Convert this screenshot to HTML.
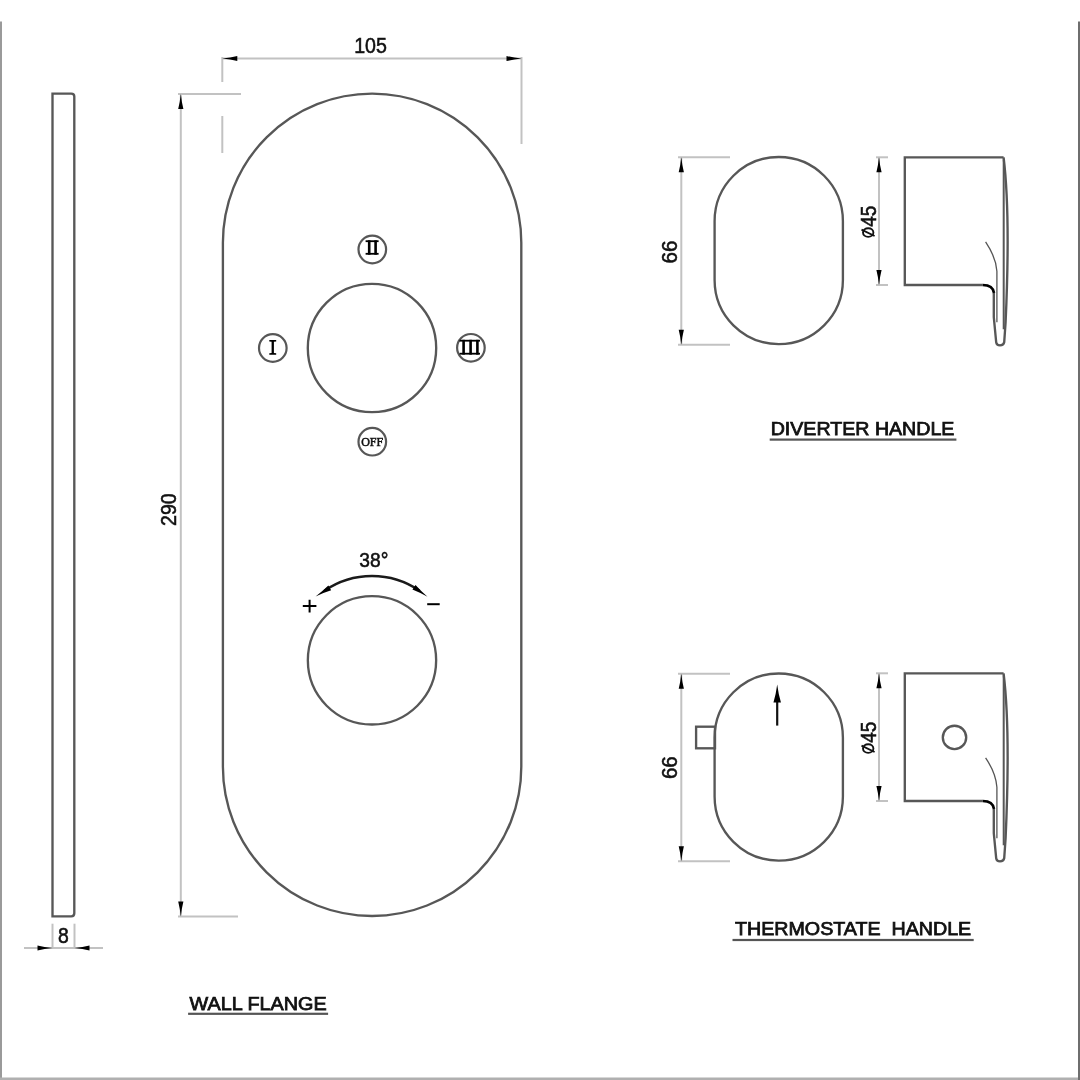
<!DOCTYPE html>
<html><head><meta charset="utf-8"><style>
html,body{margin:0;padding:0;background:#fff;}
text{-webkit-font-smoothing:antialiased;}
svg{display:block;will-change:transform;}
.wrap{width:1080px;height:1080px;}
</style></head><body><div class="wrap">
<svg width="1080" height="1080" viewBox="0 0 1080 1080">
<rect width="1080" height="1080" fill="#fff"/>
<rect x="0" y="21.5" width="2" height="1058.5" fill="#9a9a9a"/>
<rect x="0" y="1077.5" width="1080" height="2.5" fill="#b0b0b0"/>
<rect x="1078" y="21.5" width="2" height="1058.5" fill="#6e6e6e"/>
<path d="M52.5,916.3 L52.5,93.6 L71.3,93.6 Q74.3,93.6 74.3,96.6 L74.3,913.3 Q74.3,916.3 71.3,916.3 Z" fill="none" stroke="#575757" stroke-width="2.35"/>
<line x1="52.5" y1="923.7" x2="52.5" y2="948" stroke="#c2c2c2" stroke-width="2.0"/>
<line x1="74.5" y1="923.7" x2="74.5" y2="948" stroke="#c2c2c2" stroke-width="2.0"/>
<line x1="24" y1="948" x2="103" y2="948" stroke="#c2c2c2" stroke-width="2.0"/>
<path d="M52.50,948.00 Q44.25,948.88 37.50,950.60 L37.50,945.40 Q44.25,947.12 52.50,948.00Z" fill="#000"/>
<path d="M74.50,948.00 Q82.75,947.12 89.50,945.40 L89.50,950.60 Q82.75,948.88 74.50,948.00Z" fill="#000"/>
<text x="0" y="0" font-family="Liberation Sans" font-size="19.4" fill="#111" stroke="#111" stroke-width="0.5" text-anchor="middle" transform="translate(63.5 943.3) scale(1 1.1)" >8</text>
<line x1="180.8" y1="94" x2="180.8" y2="916.4" stroke="#c2c2c2" stroke-width="2.0"/>
<line x1="178" y1="94" x2="241" y2="94" stroke="#c2c2c2" stroke-width="2.0"/>
<line x1="178" y1="916.4" x2="238" y2="916.4" stroke="#c2c2c2" stroke-width="2.0"/>
<path d="M180.80,94.00 Q181.68,102.25 183.40,109.00 L178.20,109.00 Q179.92,102.25 180.80,94.00Z" fill="#000"/>
<path d="M180.80,916.40 Q179.92,908.15 178.20,901.40 L183.40,901.40 Q181.68,908.15 180.80,916.40Z" fill="#000"/>
<text x="0" y="0" font-family="Liberation Sans" font-size="19.6" fill="#111" stroke="#111" stroke-width="0.5" text-anchor="middle" transform="translate(176 509.6) rotate(-90) scale(1 1.08)" >290</text>
<line x1="222" y1="58.5" x2="521.5" y2="58.5" stroke="#c2c2c2" stroke-width="2.0"/>
<line x1="222.3" y1="57" x2="222.3" y2="82" stroke="#c2c2c2" stroke-width="2.0"/>
<line x1="222.3" y1="116" x2="222.3" y2="153" stroke="#c2c2c2" stroke-width="2.0"/>
<line x1="521.5" y1="57" x2="521.5" y2="144" stroke="#c2c2c2" stroke-width="2.0"/>
<path d="M222.30,58.50 Q230.55,57.62 237.30,55.90 L237.30,61.10 Q230.55,59.38 222.30,58.50Z" fill="#000"/>
<path d="M521.50,58.50 Q513.25,59.38 506.50,61.10 L506.50,55.90 Q513.25,57.62 521.50,58.50Z" fill="#000"/>
<text x="0" y="0" font-family="Liberation Sans" font-size="19.6" fill="#111" stroke="#111" stroke-width="0.5" text-anchor="middle" transform="translate(370.5 53.4) scale(1 1.1)" >105</text>
<path d="M222.9,242.8 A149.2,149.2 0 0 1 521.3,242.8 L521.3,766.8 A149.2,149.2 0 0 1 222.9,766.8 Z" fill="none" stroke="#575757" stroke-width="2.35"/>
<circle cx="372" cy="348" r="64.2" fill="none" stroke="#575757" stroke-width="2.35"/>
<circle cx="372.3" cy="249.5" r="13.8" fill="none" stroke="#575757" stroke-width="2.2"/>
<circle cx="272.8" cy="348" r="13.8" fill="none" stroke="#575757" stroke-width="2.2"/>
<circle cx="470.9" cy="347.8" r="13.8" fill="none" stroke="#575757" stroke-width="2.2"/>
<circle cx="372.3" cy="441.7" r="13.8" fill="none" stroke="#575757" stroke-width="2.2"/>
<rect x="365.6" y="240.3" width="13.0" height="1.8" fill="#000"/>
<rect x="365.6" y="252.89999999999998" width="13.0" height="1.8" fill="#000"/>
<rect x="367.9" y="240.3" width="2.6" height="14.399999999999977" fill="#000"/>
<rect x="374.3" y="240.3" width="2.6" height="14.399999999999977" fill="#000"/>
<path d="M269.3,340 L276.2,340 L276.2,341.6 L273.9,341.8 L273.9,353 L276.2,353.2 L276.2,354.8 L269.3,354.8 L269.3,353.2 L271.6,353 L271.6,341.8 L269.3,341.6Z" fill="#000"/>
<rect x="459.5" y="339.8" width="20.5" height="1.8" fill="#000"/>
<rect x="459.5" y="352.8" width="20.5" height="1.8" fill="#000"/>
<rect x="462.3" y="339.8" width="2.6" height="14.800000000000011" fill="#000"/>
<rect x="469.3" y="339.8" width="2.6" height="14.800000000000011" fill="#000"/>
<rect x="476.09999999999997" y="339.8" width="2.6" height="14.800000000000011" fill="#000"/>
<text x="0" y="0" font-family="Liberation Serif" font-size="11.5" fill="#111" stroke="#111" stroke-width="0.5" text-anchor="middle" transform="translate(372.2 445.6)" textLength="22" lengthAdjust="spacingAndGlyphs">OFF</text>
<circle cx="372" cy="660.35" r="64.15" fill="none" stroke="#575757" stroke-width="2.35"/>
<path d="M324.42,590.77 A84,84 0 0 1 419.58,590.77" fill="none" stroke="#1a1a1a" stroke-width="2.3"/>
<path d="M315.60,596.40 Q322.92,590.96 328.38,585.62 L331.15,590.26 Q323.86,592.54 315.60,596.40Z" fill="#000"/>
<path d="M427.50,596.70 Q419.53,592.26 412.43,589.46 L415.52,585.04 Q420.59,590.75 427.50,596.70Z" fill="#000"/>
<text x="0" y="0" font-family="Liberation Sans" font-size="19.2" fill="#111" stroke="#111" stroke-width="0.5" text-anchor="middle" transform="translate(373.8 567.4) scale(1 1.08)" >38°</text>
<path d="M302.8,606.1 H316.4 M309.6,599.7 V612.4" stroke="#000" stroke-width="2"/>
<path d="M427.2,604.2 H439.7" stroke="#000" stroke-width="2"/>
<path d="M714.6,221.14999999999998 A64.14999999999998,64.14999999999998 0 0 1 842.9,221.14999999999998 L842.9,279.95000000000005 A64.14999999999998,64.14999999999998 0 0 1 714.6,279.95000000000005 Z" fill="none" stroke="#575757" stroke-width="2.35"/>
<line x1="681.3" y1="157" x2="681.3" y2="344.6" stroke="#c2c2c2" stroke-width="2.0"/>
<line x1="678" y1="157.2" x2="730" y2="157.2" stroke="#c2c2c2" stroke-width="2.0"/>
<line x1="678" y1="344.8" x2="730" y2="344.8" stroke="#c2c2c2" stroke-width="2.0"/>
<path d="M681.30,157.20 Q682.18,165.45 683.90,172.20 L678.70,172.20 Q680.42,165.45 681.30,157.20Z" fill="#000"/>
<path d="M681.30,344.80 Q680.42,336.55 678.70,329.80 L683.90,329.80 Q682.18,336.55 681.30,344.80Z" fill="#000"/>
<text x="0" y="0" font-family="Liberation Sans" font-size="20.6" fill="#111" stroke="#111" stroke-width="0.5" text-anchor="middle" transform="translate(676.7 251.95000000000002) rotate(-90) scale(1 1.03)" >66</text>
<path d="M982.7,285 L904.8,285 L904.8,157.3 L1003.6,157.3" fill="none" stroke="#575757" stroke-width="2.35"/>
<path d="M1003.6,157.3 C1008.5,197.3 1009,247.3 1005.6,322.3 L1004.2,342.3 Q1003.6,345.3 1000,345.3 Q996.6,345.3 996.2,342.3 L993.8,317.3 L993.8,293" fill="none" stroke="#575757" stroke-width="2.35"/>
<path d="M1003.7,159.3 L1003.7,329.3" fill="none" stroke="#575757" stroke-width="2"/>
<path d="M982.7,285 Q993,285 994,293" fill="none" stroke="#000" stroke-width="2.6"/>
<path d="M985.6,241.8 Q996,257.3 996.9,271.3 L996.9,322.3" fill="none" stroke="#555" stroke-width="1.3"/>
<line x1="879.0" y1="157.3" x2="879.0" y2="285" stroke="#c2c2c2" stroke-width="2.0"/>
<line x1="876" y1="157.3" x2="888" y2="157.3" stroke="#c2c2c2" stroke-width="2.0"/>
<line x1="876" y1="285" x2="888" y2="285" stroke="#c2c2c2" stroke-width="2.0"/>
<path d="M879.00,157.30 Q879.88,165.55 881.60,172.30 L876.40,172.30 Q878.12,165.55 879.00,157.30Z" fill="#000"/>
<path d="M879.00,285.00 Q878.12,276.75 876.40,270.00 L881.60,270.00 Q879.88,276.75 879.00,285.00Z" fill="#000"/>
<text x="0" y="0" font-family="Liberation Sans" font-size="19" fill="#111" stroke="#111" stroke-width="0.5" text-anchor="middle" transform="translate(876.3 216.3) rotate(-90) scale(1 1.12)" >45</text>
<ellipse cx="868.2" cy="232.6" rx="5.2" ry="4.3" fill="none" stroke="#111" stroke-width="1.9"/>
<path d="M861.5,229.6 L874.6,236" stroke="#111" stroke-width="1.9"/>
<path d="M714.6,737.65 A64.14999999999998,64.14999999999998 0 0 1 842.9,737.65 L842.9,796.45 A64.14999999999998,64.14999999999998 0 0 1 714.6,796.45 Z" fill="none" stroke="#575757" stroke-width="2.35"/>
<line x1="681.3" y1="673.5" x2="681.3" y2="861.1" stroke="#c2c2c2" stroke-width="2.0"/>
<line x1="678" y1="673.7" x2="730" y2="673.7" stroke="#c2c2c2" stroke-width="2.0"/>
<line x1="678" y1="861.3000000000001" x2="730" y2="861.3000000000001" stroke="#c2c2c2" stroke-width="2.0"/>
<path d="M681.30,673.70 Q682.18,681.95 683.90,688.70 L678.70,688.70 Q680.42,681.95 681.30,673.70Z" fill="#000"/>
<path d="M681.30,861.30 Q680.42,853.05 678.70,846.30 L683.90,846.30 Q682.18,853.05 681.30,861.30Z" fill="#000"/>
<text x="0" y="0" font-family="Liberation Sans" font-size="20.6" fill="#111" stroke="#111" stroke-width="0.5" text-anchor="middle" transform="translate(676.7 767.65) rotate(-90) scale(1 1.03)" >66</text>
<path d="M982.7,801 L904.8,801 L904.8,673.3 L1003.6,673.3" fill="none" stroke="#575757" stroke-width="2.35"/>
<path d="M1003.6,673.3 C1008.5,713.3 1009,763.3 1005.6,838.3 L1004.2,858.3 Q1003.6,861.3 1000,861.3 Q996.6,861.3 996.2,858.3 L993.8,833.3 L993.8,809" fill="none" stroke="#575757" stroke-width="2.35"/>
<path d="M1003.7,675.3 L1003.7,845.3" fill="none" stroke="#575757" stroke-width="2"/>
<path d="M982.7,801 Q993,801 994,809" fill="none" stroke="#000" stroke-width="2.6"/>
<path d="M985.6,757.8 Q996,773.3 996.9,787.3 L996.9,838.3" fill="none" stroke="#555" stroke-width="1.3"/>
<line x1="879.0" y1="673.3" x2="879.0" y2="801" stroke="#c2c2c2" stroke-width="2.0"/>
<line x1="876" y1="673.3" x2="888" y2="673.3" stroke="#c2c2c2" stroke-width="2.0"/>
<line x1="876" y1="801" x2="888" y2="801" stroke="#c2c2c2" stroke-width="2.0"/>
<path d="M879.00,673.30 Q879.88,681.55 881.60,688.30 L876.40,688.30 Q878.12,681.55 879.00,673.30Z" fill="#000"/>
<path d="M879.00,801.00 Q878.12,792.75 876.40,786.00 L881.60,786.00 Q879.88,792.75 879.00,801.00Z" fill="#000"/>
<text x="0" y="0" font-family="Liberation Sans" font-size="19" fill="#111" stroke="#111" stroke-width="0.5" text-anchor="middle" transform="translate(876.3 732.3) rotate(-90) scale(1 1.12)" >45</text>
<ellipse cx="868.2" cy="748.6" rx="5.2" ry="4.3" fill="none" stroke="#111" stroke-width="1.9"/>
<path d="M861.5,745.6 L874.6,752" stroke="#111" stroke-width="1.9"/>
<rect x="696.1" y="726.7" width="18.9" height="21.6" fill="none" stroke="#575757" stroke-width="2.35"/>
<path d="M777.2,725.6 V700" stroke="#111" stroke-width="2.2"/>
<path d="M777.20,684.40 Q778.48,694.30 780.95,702.40 L773.45,702.40 Q775.93,694.30 777.20,684.40Z" fill="#000"/>
<circle cx="954.5" cy="737.4" r="11.7" fill="none" stroke="#575757" stroke-width="2.35"/>
<text x="0" y="0" font-family="Liberation Sans" font-size="17.5" fill="#111" stroke="#111" stroke-width="0.75" text-anchor="start" transform="translate(770.7 434.9)" textLength="183.69999999999993" lengthAdjust="spacingAndGlyphs">DIVERTER HANDLE</text>
<rect x="769.7" y="438.5" width="186.69999999999993" height="2.2" fill="#555"/>
<text x="0" y="0" font-family="Liberation Sans" font-size="17.5" fill="#111" stroke="#111" stroke-width="0.75" text-anchor="start" transform="translate(735 935)" textLength="236.20000000000005" lengthAdjust="spacingAndGlyphs">THERMOSTATE&#160; HANDLE</text>
<rect x="732.5" y="938.9" width="241.20000000000005" height="2.2" fill="#555"/>
<text x="0" y="0" font-family="Liberation Sans" font-size="17.5" fill="#111" stroke="#111" stroke-width="0.75" text-anchor="start" transform="translate(189.6 1009.6)" textLength="137.1" lengthAdjust="spacingAndGlyphs">WALL FLANGE</text>
<rect x="188.1" y="1012.6999999999999" width="140.00000000000003" height="2.2" fill="#555"/>
</svg></div>
</body></html>
